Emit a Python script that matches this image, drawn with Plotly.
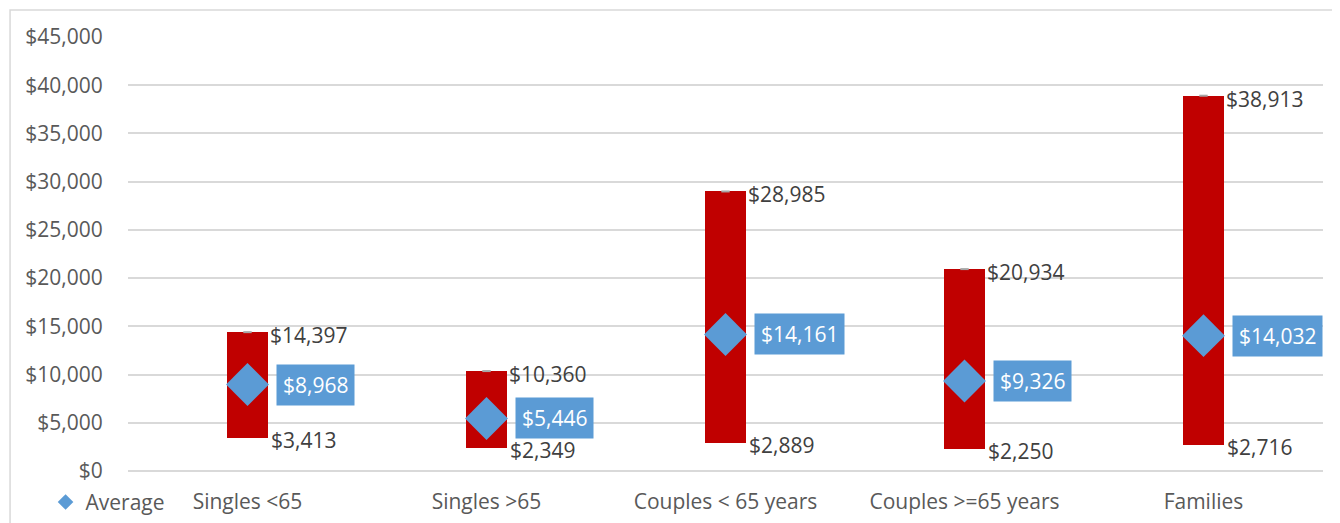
import plotly.graph_objects as go

categories = ["Singles <65", "Singles >65", "Couples < 65 years", "Couples >=65 years", "Families"]
low_vals = [3413, 2349, 2889, 2250, 2716]
high_vals = [14397, 10360, 28985, 20934, 38913]
avg_vals = [8968, 5446, 14161, 9326, 14032]
y_ticks = list(range(0, 45001, 5000))

RED = "#C00000"
BLUE = "#5B9BD5"
TXT = "#404040"
AX = "#595959"
FONT = "Open Sans"

def money(v):
    return "${:,}".format(v)

fig = go.Figure()

# floating range bars
fig.add_trace(go.Bar(
    x=categories, y=[h - l for h, l in zip(high_vals, low_vals)], base=low_vals,
    width=0.168, marker=dict(color=RED, line=dict(width=0)),
    showlegend=False, hoverinfo="skip"
))

# little tick at the max
fig.add_trace(go.Scatter(
    x=categories, y=high_vals, mode="markers",
    marker=dict(symbol="line-ew", size=6, line=dict(color="#A6A6A6", width=2)),
    showlegend=False, hoverinfo="skip"
))

# average diamonds
fig.add_trace(go.Scatter(
    x=categories, y=avg_vals, mode="markers", name="Average",
    marker=dict(symbol="diamond", size=33, color=BLUE, line=dict(width=0))
))

for c, h, l, a in zip(categories, high_vals, low_vals, avg_vals):
    fig.add_annotation(x=c, y=h, text=money(h), showarrow=False, xanchor="left",
                       yanchor="middle", xshift=20, yshift=-3,
                       font=dict(family=FONT, size=21, color=TXT))
    fig.add_annotation(x=c, y=l, text=money(l), showarrow=False, xanchor="left",
                       yanchor="middle", xshift=21, yshift=-2,
                       font=dict(family=FONT, size=21, color=TXT))
    fig.add_annotation(x=c, y=a, text=money(a), showarrow=False, xanchor="left",
                       yanchor="middle", xshift=28, bgcolor=BLUE, borderpad=6,
                       font=dict(family=FONT, size=21, color="white"))

# outer chart border
fig.add_shape(type="rect", xref="paper", yref="paper",
              x0=-0.0987, x1=1.1, y0=-0.5, y1=1.062,
              line=dict(color="#D9D9D9", width=1.5), layer="below")

# page body has an 8px margin, so the figure is offset by 8px
fig.update_layout(
    width=1332, height=515,
    margin=dict(l=120, r=17, t=29, b=52, autoexpand=False),
    plot_bgcolor="white", paper_bgcolor="white",
    font=dict(family=FONT, size=21, color=AX),
    bargap=0,
    legend=dict(orientation="h", x=-0.069, y=-0.025, xanchor="left", yanchor="top",
                font=dict(family=FONT, size=21, color=AX), itemsizing="constant",
                bgcolor="rgba(0,0,0,0)", itemwidth=30),
)
fig.update_xaxes(showgrid=False, showline=False, ticks="outside", ticklen=12,
                 tickcolor="rgba(0,0,0,0)", automargin=False,
                 tickfont=dict(family=FONT, size=21, color=AX))
fig.update_yaxes(range=[0, 45000], tickvals=y_ticks, ticktext=[money(v) for v in y_ticks],
                 showgrid=True, gridcolor="#D9D9D9", gridwidth=1.5,
                 zeroline=True, zerolinecolor="#D9D9D9", zerolinewidth=1.5,
                 showline=False, ticks="outside", ticklen=20, tickcolor="rgba(0,0,0,0)",
                 automargin=False, tickfont=dict(family=FONT, size=21, color=AX))

fig.write_html("out.html")
